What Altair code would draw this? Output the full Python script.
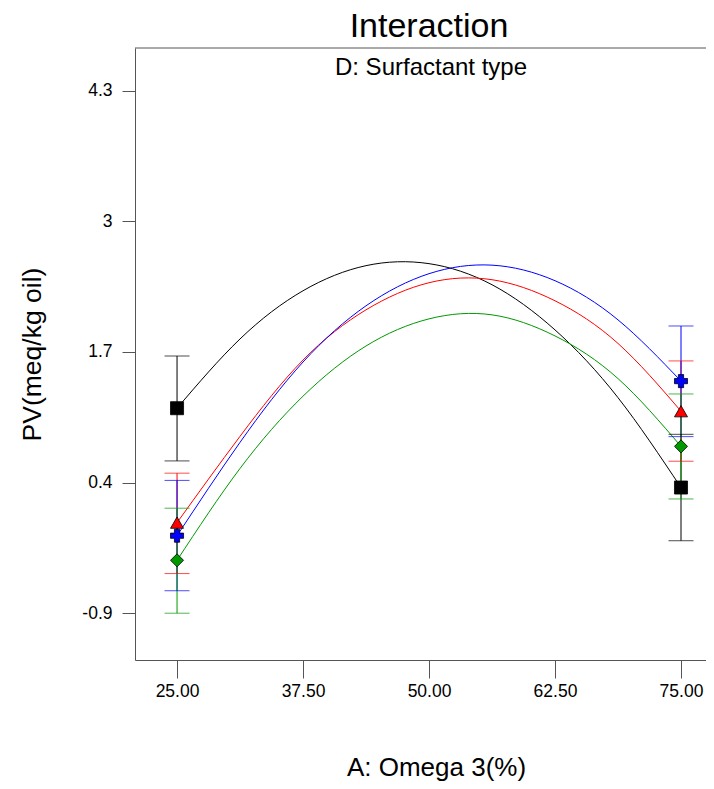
import altair as alt
import pandas as pd

# ---- data ----
series = ["Type 1", "Type 2", "Type 3", "Type 4"]
colors = ["#000000", "#ff0000", "#0000ff", "#009900"]
shapes = ["square", "triangle-up", "cross", "diamond"]

x_levels = [25, 75]
mean_t1 = [1.14, 0.35]
mean_t2 = [0.0, 1.11]
mean_t3 = [-0.13, 1.41]
mean_t4 = [-0.375, 0.76]

low_t1 = [0.615, -0.18]
high_t1 = [1.66, 0.88]
low_t2 = [-0.507, 0.612]
high_t2 = [0.493, 1.611]
low_t3 = [-0.678, 0.857]
high_t3 = [0.421, 1.959]
low_t4 = [-0.902, 0.236]
high_t4 = [0.144, 1.282]

curve_x = [25, 31.25, 37.5, 43.75, 50, 56.25, 62.5, 68.75, 75]
curve_t1 = [1.14, 1.83, 2.31, 2.56, 2.58, 2.37, 1.92, 1.245, 0.35]
curve_t2 = [0.0, 0.86, 1.62, 2.12, 2.39, 2.42, 2.21, 1.785, 1.11]
curve_t3 = [-0.13, 0.80, 1.60, 2.16, 2.48, 2.565, 2.41, 2.02, 1.41]
curve_t4 = [-0.375, 0.54, 1.26, 1.76, 2.03, 2.07, 1.86, 1.435, 0.76]

x_ticks = [25, 37.5, 50, 62.5, 75]
y_ticks = [-0.9, 0.4, 1.7, 3, 4.3]

# ---- tables ----
means = [mean_t1, mean_t2, mean_t3, mean_t4]
lows = [low_t1, low_t2, low_t3, low_t4]
highs = [high_t1, high_t2, high_t3, high_t4]
curves = [curve_t1, curve_t2, curve_t3, curve_t4]

pts = pd.DataFrame([
    {"series": s, "x": x, "y": m[i], "lo": lo[i], "hi": hi[i]}
    for s, m, lo, hi in zip(series, means, lows, highs)
    for i, x in enumerate(x_levels)
])
crv = pd.DataFrame([
    {"series": s, "x": x, "y": c[i]}
    for s, c in zip(series, curves)
    for i, x in enumerate(curve_x)
])

W, H = 571, 612
FONT = "Liberation Sans"
AXC = "#555555"

xscale = alt.Scale(domain=[20.83, 77.48], nice=False, zero=False)
yscale = alt.Scale(domain=[-1.368, 4.728], nice=False, zero=False)
cscale = alt.Scale(domain=series, range=colors)

X = alt.X("x:Q", scale=xscale, axis=alt.Axis(
    values=x_ticks, format=".2f", tickSize=18, grid=False,
    domainColor=AXC, tickColor=AXC, labelColor="black",
    labelFont=FONT, labelFontSize=17.5, labelPadding=4,
    title="A: Omega 3(%)", titleFont=FONT, titleFontSize=26,
    titleFontWeight="normal", titleColor="black",
    titleX=301, titleAlign="center",
    titleY=115, titleBaseline="alphabetic"))
Y = alt.Y("y:Q", scale=yscale, axis=alt.Axis(
    values=y_ticks, tickSize=13, grid=False,
    domainColor=AXC, tickColor=AXC, labelColor="black",
    labelFont=FONT, labelFontSize=17.5, labelPadding=10,
    labelExpr="datum.value == 3 ? '3' : (datum.value < 0 ? '-' + format(abs(datum.value), '.1f') : format(datum.value, '.1f'))",
    title="PV(meq/kg oil)", titleFont=FONT, titleFontSize=26.5,
    titleFontWeight="normal", titleColor="black", titlePadding=35))

base_pts = alt.Chart(pts)

border = alt.Chart(pd.DataFrame({"a": [0]})).mark_rule(color=AXC, strokeWidth=1).encode(
    x=alt.value(0), x2=alt.value(W), y=alt.value(0))

lines = alt.Chart(crv).mark_line(strokeWidth=1, interpolate="natural").encode(
    x=X, y=Y,
    color=alt.Color("series:N", scale=cscale, legend=None),
    detail="series:N")

bars = base_pts.mark_rule(strokeWidth=1).encode(
    x="x:Q", y="lo:Q", y2="hi:Q",
    color=alt.Color("series:N", scale=cscale, legend=None))

cap_lo = base_pts.mark_tick(orient="horizontal", size=25, thickness=1).encode(
    x="x:Q", y="lo:Q", color=alt.Color("series:N", scale=cscale, legend=None))
cap_hi = base_pts.mark_tick(orient="horizontal", size=25, thickness=1).encode(
    x="x:Q", y="hi:Q", color=alt.Color("series:N", scale=cscale, legend=None))

marks = base_pts.mark_point(filled=True, size=170, strokeWidth=0.8, opacity=1).encode(
    x="x:Q", y="y:Q",
    fill=alt.Fill("series:N", scale=cscale, legend=None),
    shape=alt.Shape("series:N", scale=alt.Scale(domain=series, range=shapes), legend=None),
    stroke=alt.value("black"))

title = alt.Chart(pd.DataFrame({"t": ["Interaction"]})).mark_text(
    font=FONT, fontSize=34, color="black", baseline="middle", align="center").encode(
    text="t:N", x=alt.value(294), y=alt.value(-21))
subtitle = alt.Chart(pd.DataFrame({"t": ["D: Surfactant type"]})).mark_text(
    font=FONT, fontSize=24, color="black", baseline="middle", align="center").encode(
    text="t:N", x=alt.value(296), y=alt.value(20))

chart = alt.layer(border, lines, bars, cap_lo, cap_hi, marks, title, subtitle).properties(
    width=W, height=H,
    autosize=alt.AutoSizeParams(type="none"),
    padding={"left": 127, "top": 40, "right": 0, "bottom": 121},
).configure_view(stroke=None)

chart.save("out.html", embed_options={"renderer": "svg", "actions": False})
